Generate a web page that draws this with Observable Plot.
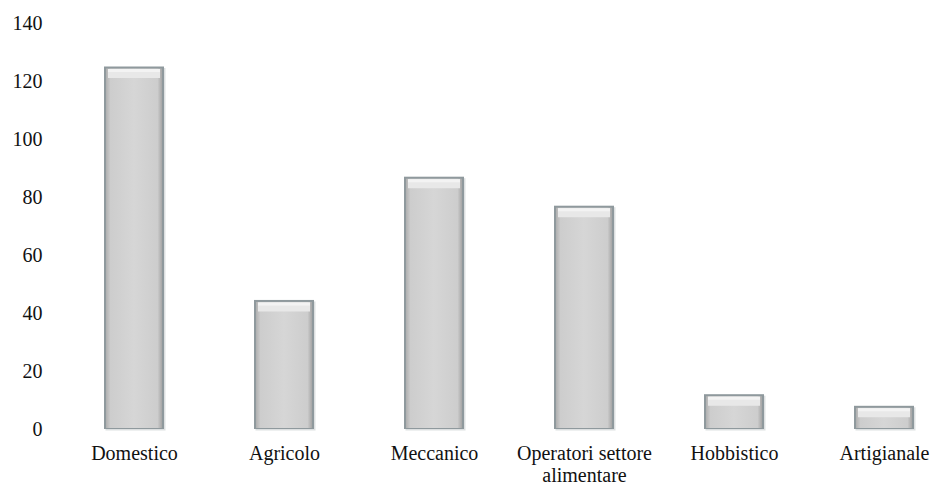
<!DOCTYPE html>
<html>
<head>
<meta charset="utf-8">
<script src="https://cdn.jsdelivr.net/npm/d3@7"></script>
<script src="https://cdn.jsdelivr.net/npm/@observablehq/plot@0.6"></script>
<style>
  html, body { margin: 0; padding: 0; background: #fff; font-family: "Liberation Serif"; }
  #chart svg { display: block; }
</style>
</head>
<body>
<div id="chart"></div>
<script>
const categories = ["Domestico", "Agricolo", "Meccanico", "Operatori settore alimentare", "Hobbistico", "Artigianale"];
const values = [125, 44.5, 87, 77, 12, 8];
const tickLabels = {"Operatori settore alimentare": "Operatori settore\nalimentare"};
const yTicks = [0, 20, 40, 60, 80, 100, 120, 140];

const data = categories.map((c, i) => ({category: c, value: values[i]}));

const plot = Plot.plot({
  width: 932,
  height: 486,
  marginTop: 23,
  marginBottom: 57,
  marginLeft: 59,
  marginRight: 0,
  style: "font-family: 'Liberation Serif'; font-size: 20px; color: #111; background: #fff;",
  x: {domain: categories, range: [59, 959], paddingInner: 0.6, paddingOuter: 0.3, label: null},
  y: {domain: [0, 140], label: null},
  marks: [
    Plot.barY(data, {x: "category", y: "value", fill: "#8e979b", dx: 1.5, dy: 1.5, fillOpacity: 0.3}),
    Plot.barY(data, {x: "category", y: "value", fill: "#8f999d"}),
    Plot.barY(data, {x: "category", y: "value", fill: "url(#barGrad)", insetLeft: 2, insetRight: 2, insetTop: 2, insetBottom: 1}),
    Plot.tickY(data, {x: "category", y: "value", stroke: "#e8e8e8", strokeWidth: 9, dy: 6.5, insetLeft: 4, insetRight: 4}),
    Plot.tickY(data, {x: "category", y: "value", stroke: "#f3f3f3", strokeWidth: 3, dy: 3.5, insetLeft: 4, insetRight: 4}),
    Plot.axisY({ticks: yTicks, tickSize: 0, tickPadding: 17, fontSize: 20, fontFamily: "Liberation Serif"}),
    Plot.axisX({tickSize: 0, tickPadding: 15, fontSize: 20, fontFamily: "Liberation Serif", lineHeight: 1.1, tickFormat: d => tickLabels[d] ?? d})
  ]
});

const ns = "http://www.w3.org/2000/svg";
const defs = document.createElementNS(ns, "defs");
defs.innerHTML = `<linearGradient id="barGrad" x1="0" x2="1" y1="0" y2="0">
  <stop offset="0" stop-color="#b0b0b0"/>
  <stop offset="0.08" stop-color="#cdcdcd"/>
  <stop offset="0.5" stop-color="#d6d6d6"/>
  <stop offset="0.92" stop-color="#cdcdcd"/>
  <stop offset="1" stop-color="#a6a6a6"/>
</linearGradient>`;
plot.insertBefore(defs, plot.firstChild);
plot.querySelectorAll("text, tspan").forEach(el => {
  el.setAttribute("font-family", "Liberation Serif");
  el.setAttribute("font-size", "20");
});
document.getElementById("chart").appendChild(plot);
</script>
</body>
</html>
